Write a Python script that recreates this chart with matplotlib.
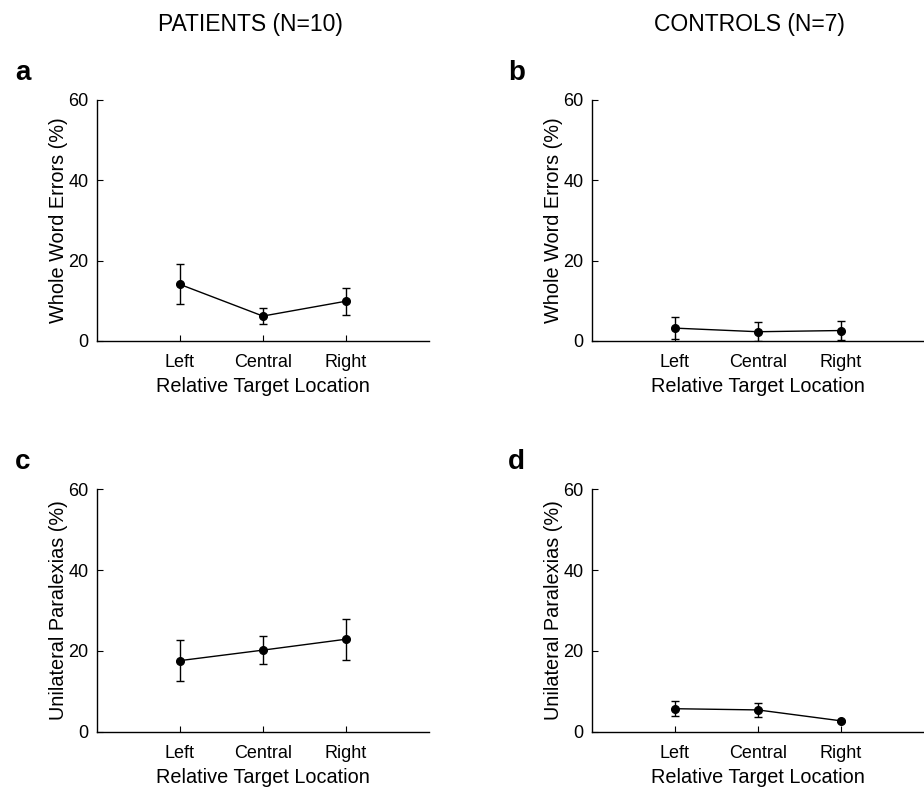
import numpy as np
import matplotlib.pyplot as plt

plt.rcParams['font.family'] = ['Liberation Sans', 'DejaVu Sans']

locations = ["Left", "Central", "Right"]

# panel a: patients, whole word errors
pat_whole_mean = [14.1, 6.2, 9.9]
pat_whole_err = [5.0, 2.0, 3.4]
# panel b: controls, whole word errors
ctl_whole_mean = [3.2, 2.3, 2.6]
ctl_whole_err = [2.7, 2.3, 2.3]
# panel c: patients, unilateral paralexias
pat_unil_mean = [17.6, 20.2, 22.9]
pat_unil_err = [5.1, 3.5, 5.1]
# panel d: controls, unilateral paralexias
ctl_unil_mean = [5.7, 5.4, 2.7]
ctl_unil_err = [1.8, 1.65, 0.3]

panels = [
    ("a", pat_whole_mean, pat_whole_err, "Whole Word Errors (%)", [0.1047, 0.5673, 0.3596, 0.3058]),
    ("b", ctl_whole_mean, ctl_whole_err, "Whole Word Errors (%)", [0.6404, 0.5673, 0.3596, 0.3058]),
    ("c", pat_unil_mean, pat_unil_err, "Unilateral Paralexias (%)", [0.1047, 0.0714, 0.3596, 0.3076]),
    ("d", ctl_unil_mean, ctl_unil_err, "Unilateral Paralexias (%)", [0.6404, 0.0714, 0.3596, 0.3076]),
]

fig = plt.figure(figsize=(9.24, 7.88), dpi=100)

x = np.arange(1, len(locations) + 1)
for letter, mean, err, ylabel, rect in panels:
    ax = fig.add_axes(rect)
    ax.errorbar(x, mean, yerr=err, color="black", lw=1.0, marker="o", ms=5.5,
                capsize=3, elinewidth=1.0, capthick=1.0)
    ax.set_xlim(0, 4)
    ax.set_ylim(0, 60)
    ax.set_yticks([0, 20, 40, 60])
    ax.set_xticks(x)
    ax.set_xticklabels(locations)
    ax.spines["top"].set_visible(False)
    ax.spines["right"].set_visible(False)
    for s in ("left", "bottom"):
        ax.spines[s].set_linewidth(1.0)
    ax.tick_params(direction="in", length=4, width=0.8, labelsize=13)
    ax.tick_params(axis="y", pad=6)
    ax.tick_params(axis="x", pad=9.5)
    ax.set_ylabel(ylabel, fontsize=14.3, labelpad=0)
    ax.set_xlabel("Relative Target Location", fontsize=14.3, labelpad=4.5)
    # panel letter
    fx = 15 / 924 if letter in ("a", "c") else 508 / 924
    fy = rect[1] + rect[3] + 27 / 788
    fig.text(fx, fy, letter, fontsize=20, fontweight="bold", ha="left", va="center")

fig.text(250 / 924, 1 - 25 / 788, "PATIENTS (N=10)", fontsize=16.5, ha="center", va="center")
fig.text(749 / 924, 1 - 25 / 788, "CONTROLS (N=7)", fontsize=16.5, ha="center", va="center")

fig.savefig("out.png", dpi=100)
